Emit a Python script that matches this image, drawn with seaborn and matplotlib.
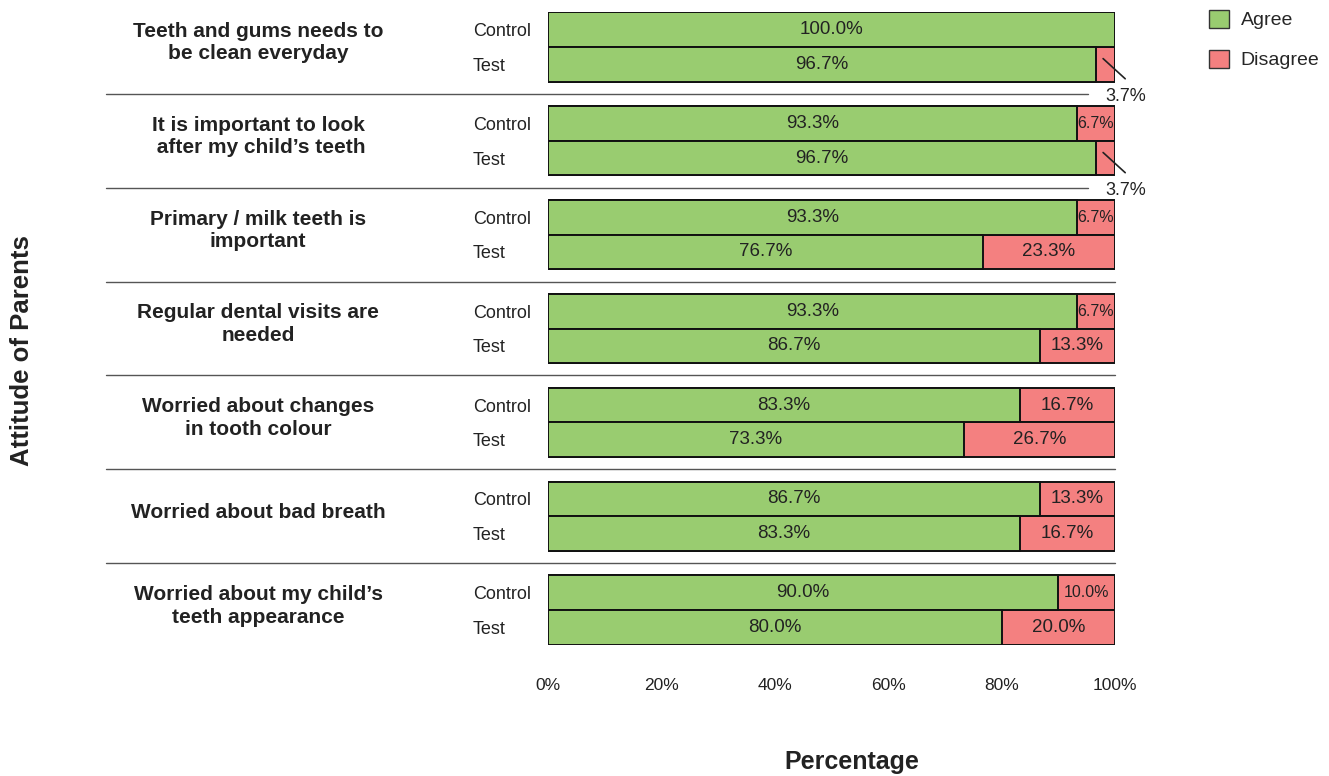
import numpy as np
import pandas as pd
import matplotlib
matplotlib.use("Agg")
import matplotlib.pyplot as plt
import matplotlib.transforms as mtransforms
from matplotlib.patches import Patch
import seaborn as sns

# --- data ---
statements = [
    "Teeth and gums needs to\nbe clean everyday",
    "It is important to look\n after my child\u2019s teeth",
    "Primary / milk teeth is\nimportant",
    "Regular dental visits are\nneeded",
    "Worried about changes\nin tooth colour",
    "Worried about bad breath",
    "Worried about my child\u2019s\nteeth appearance",
]
groups = ["Control", "Test"]
agree_control = [100.0, 93.3, 93.3, 93.3, 83.3, 86.7, 90.0]
agree_test = [96.7, 96.7, 76.7, 86.7, 73.3, 83.3, 80.0]
disagree_control = [0.0, 6.7, 6.7, 6.7, 16.7, 13.3, 10.0]
disagree_test = [3.7, 3.7, 23.3, 13.3, 26.7, 16.7, 20.0]
x_ticks = [0, 20, 40, 60, 80, 100]

GREEN = "#99cc70"
RED = "#f48080"
TXT = "#222222"
PITCH = 2.7

sns.set_theme(style="white")
plt.rcParams["font.family"] = ["Liberation Sans", "DejaVu Sans"]

rows = []
for i, s in enumerate(statements):
    for j, (g, a, d) in enumerate(zip(groups,
                                      [agree_control[i], agree_test[i]],
                                      [disagree_control[i], disagree_test[i]])):
        rows.append({"statement": s, "group": g, "pos": i * PITCH + j,
                     "agree": a, "disagree": d,
                     "total": min(a + d, 100.0)})
df = pd.DataFrame(rows)

fig = plt.figure(figsize=(13.29, 7.76), dpi=100)
ax = fig.add_axes([548 / 1329, 1 - 645 / 776, 567 / 1329, 633 / 776])

# stacked bars: red total underneath, green agree on top
sns.barplot(data=df, x="total", y="pos", orient="h", native_scale=True,
            color=RED, saturation=1, width=1, edgecolor="#111111",
            linewidth=1.4, ax=ax)
sns.barplot(data=df, x="agree", y="pos", orient="h", native_scale=True,
            color=GREEN, saturation=1, width=1, edgecolor="#111111",
            linewidth=1.4, ax=ax)

ax.set_xlim(0, 100)
ax.set_ylim(6 * PITCH + 1.5, -0.5)
for sp in ax.spines.values():
    sp.set_visible(False)
ax.set_xlabel("")
ax.set_ylabel("")
ax.set_xticks(x_ticks)
ax.set_xticklabels([f"{t}%" for t in x_ticks], fontsize=12.5, color=TXT)
ax.set_yticks(df["pos"])
ax.set_yticklabels(df["group"], fontsize=13, color=TXT, ha="left")
ax.tick_params(axis="x", length=0, pad=24)
ax.tick_params(axis="y", length=0, pad=54)

# value labels
for _, r in df.iterrows():
    ax.text(r["agree"] / 2, r["pos"], f"{r['agree']:.1f}%", ha="center",
            va="center", fontsize=13.5, color=TXT)
    if r["disagree"] <= 0:
        continue
    if r["disagree"] < 5:
        p = r["pos"]
        ax.plot([97.9, 101.8], [p - 0.16, p + 0.42], color=TXT, lw=1.2,
                clip_on=False)
        ax.text(101.9, p + 0.93, f"{r['disagree']:.1f}%", ha="center",
                va="center", fontsize=13, color=TXT, clip_on=False)
    else:
        fs = 11.5 if r["disagree"] < 11 else 13.5
        ax.text(100 - r["disagree"] / 2, r["pos"], f"{r['disagree']:.1f}%",
                ha="center", va="center", fontsize=fs, color=TXT)

# separators and statement labels
trans = mtransforms.blended_transform_factory(fig.transFigure, ax.transData)
for i, s in enumerate(statements):
    yc = i * PITCH + 0.5
    fig.text(258 / 1329, yc - 0.12, s, transform=trans, ha="center",
             va="center", fontsize=15, fontweight="bold", color=TXT,
             linespacing=1.25)
    if i < len(statements) - 1:
        end = 95.2 if disagree_test[i] < 5 else 100
        ax.plot([-78, end], [yc + 1.35, yc + 1.35], color="#555555", lw=1,
                clip_on=False)

fig.text(22 / 1329, 1 - 351 / 776, "Attitude of Parents", rotation=90,
         ha="center", va="center", fontsize=18.5, fontweight="bold", color=TXT)
fig.text(852 / 1329, 1 - 762 / 776, "Percentage", ha="center", va="center",
         fontsize=18, fontweight="bold", color=TXT)

handles = [Patch(facecolor=GREEN, edgecolor="#333333", label="Agree"),
           Patch(facecolor=RED, edgecolor="#333333", label="Disagree")]
fig.legend(handles=handles, loc="upper left", bbox_to_anchor=(1191 / 1329, 1.01),
           frameon=False, fontsize=14, handlelength=1.05, handleheight=1.05,
           labelspacing=1.05, handletextpad=0.6)

fig.savefig("out.png", dpi=100)
